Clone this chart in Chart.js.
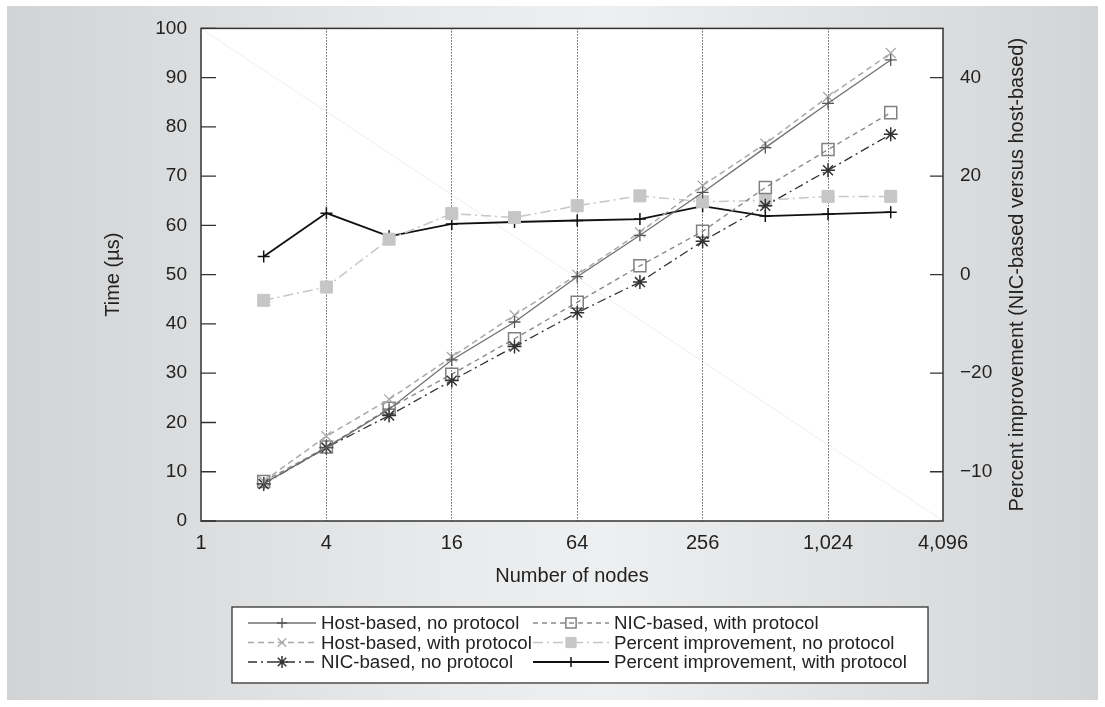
<!DOCTYPE html>
<html>
<head>
<meta charset="utf-8">
<script src="https://cdn.jsdelivr.net/npm/chart.js@4.4.0/dist/chart.umd.min.js"></script>
<style>
  html, body { margin: 0; padding: 0; background: #fff; }
  #panel { position: absolute; left: 7px; top: 6px; width: 1091px; height: 694px;
    background: linear-gradient(to right, #d2d3d5 0%, #e9eaeb 40%, #eeeff0 55%, #d3d4d6 100%); }
  #wrap { position: absolute; left: 0; top: 0; width: 1105px; height: 707px; }
</style>
</head>
<body>
<div id="panel"></div>
<div id="wrap"><canvas id="chart"></canvas></div>
<script>

// DATA

var nodes = [2, 4, 8, 16, 32, 64, 128, 256, 512, 1024, 2048];

// time (us), left axis
var hostNoProto   = [7.6, 14.9, 22.7, 32.7, 40.4, 49.6, 58.0, 66.7, 75.8, 84.8, 93.6];
var hostWithProto = [8.1, 17.2, 24.7, 33.3, 41.8, 50.0, 58.6, 68.1, 76.6, 86.1, 95.0];
var nicNoProto    = [7.5, 14.9, 21.4, 28.5, 35.4, 42.3, 48.5, 56.8, 64.0, 71.2, 78.5];
var nicWithProto  = [8.0, 15.0, 22.9, 29.8, 37.0, 44.4, 51.8, 58.8, 67.7, 75.4, 82.9];

// percent improvement, right axis
var pctNoProto    = [-5.2, -2.5, 7.2, 12.4, 11.6, 14.0, 16.0, 14.8, 15.1, 15.9, 15.9];
var pctWithProto  = [3.7, 12.5, 7.8, 10.3, 10.7, 11.0, 11.3, 13.9, 11.9, 12.3, 12.7];

var xTicks = [1, 4, 16, 64, 256, 1024, 4096];
var xMax = 3650;   // frame of the original stops a bit short of 4,096
var rightTicks = [-40, -20, 0, 20, 40];
var rightTickLabels = ['\u221210', '\u221220', '0', '20', '40'];
var rightTitle = 'Percent improvement (NIC-based versus host-based)';


Chart.defaults.font.family = "'Liberation Sans', Arial, sans-serif";
Chart.defaults.color = '#222';


function pts(arr) {
    return arr.map(function(v, i) { return {x: nodes[i], y: v}; });
}


var datasets = [
    {label: 'Host-based, no protocol', data: pts(hostNoProto), yAxisID: 'y',
     borderColor: '#707070', borderWidth: 1.3, borderDash: [],
     pointStyle: 'cross', pointRadius: 6, pointBorderColor: '#555', pointBackgroundColor: '#555', pointBorderWidth: 1.3},
    {label: 'Host-based, with protocol', data: pts(hostWithProto), yAxisID: 'y',
     borderColor: '#a9a9a9', borderWidth: 1.5, borderDash: [6, 4],
     pointStyle: 'crossRot', pointRadius: 7, pointBorderColor: '#a9a9a9', pointBackgroundColor: '#a9a9a9', pointBorderWidth: 1.3},
    {label: 'NIC-based, no protocol', data: pts(nicNoProto), yAxisID: 'y',
     borderColor: '#333', borderWidth: 1.3, borderDash: [9, 4, 2, 4],
     pointStyle: 'star', pointRadius: 7, pointBorderColor: '#333', pointBackgroundColor: '#333', pointBorderWidth: 1.5},
    {label: 'NIC-based, with protocol', data: pts(nicWithProto), yAxisID: 'y',
     borderColor: '#8a8a8a', borderWidth: 1.4, borderDash: [5, 4],
     pointStyle: 'rect', pointRadius: 8.5, pointBorderColor: '#808080', pointBackgroundColor: 'rgba(0,0,0,0)', pointBorderWidth: 1.5},
    {label: 'Percent improvement, no protocol', data: pts(pctNoProto), yAxisID: 'y1',
     borderColor: '#c6c6c6', borderWidth: 1.5, borderDash: [10, 4, 2, 4],
     pointStyle: 'rect', pointRadius: 8.5, pointBorderColor: '#c6c6c6', pointBackgroundColor: '#c6c6c6', pointBorderWidth: 1},
    {label: 'Percent improvement, with protocol', data: pts(pctWithProto), yAxisID: 'y1',
     borderColor: '#111', borderWidth: 1.8, borderDash: [],
     pointStyle: 'cross', pointRadius: 6, pointBorderColor: '#111', pointBackgroundColor: '#111', pointBorderWidth: 1.5},
];


// white plot area, faint diagonal, frame, inward ticks, right title, legend
var decor = {
    id: 'decor',
    beforeDraw: function(chart) {
        var a = chart.chartArea, c = chart.ctx;
        c.save();
        c.fillStyle = '#fff';
        c.fillRect(a.left, a.top, a.right - a.left, a.bottom - a.top);
        c.strokeStyle = '#efefef';
        c.lineWidth = 1;
        c.beginPath();
        c.moveTo(a.left, a.top);
        c.lineTo(a.right, a.bottom);
        c.stroke();
        c.restore();
    },
    afterDraw: function(chart) {
        var a = chart.chartArea, c = chart.ctx;
        var sy = chart.scales.y, sy1 = chart.scales.y1;
        c.save();
        c.strokeStyle = '#333';
        c.lineWidth = 1.5;
        c.setLineDash([]);
        c.strokeRect(a.left, a.top, a.right - a.left, a.bottom - a.top);

        c.lineWidth = 1.3;
        c.beginPath();
        sy.ticks.forEach(function(t) {
            var p = sy.getPixelForValue(t.value);
            c.moveTo(a.left, p); c.lineTo(a.left + 15, p);
        });
        sy1.ticks.forEach(function(t) {
            var p = sy1.getPixelForValue(t.value);
            c.moveTo(a.right - 13, p); c.lineTo(a.right, p);
        });
        c.stroke();

        // right axis title, reads bottom to top like the left one
        c.save();
        c.translate(1017, (a.top + a.bottom) / 2);
        c.rotate(-Math.PI / 2);
        c.font = "20px 'Liberation Sans', Arial, sans-serif";
        c.fillStyle = '#222';
        c.textAlign = 'center';
        c.textBaseline = 'middle';
        c.fillText(rightTitle, 0, 0);
        c.restore();

        // legend
        var bx = 232, by = 607, bw = 696, bh = 76;
        c.fillStyle = '#fff';
        c.fillRect(bx, by, bw, bh);
        c.lineWidth = 1.3;
        c.strokeStyle = '#333';
        c.strokeRect(bx, by, bw, bh);
        c.font = "18.7px 'Liberation Sans', Arial, sans-serif";
        c.textBaseline = 'middle';
        c.textAlign = 'left';
        chart.data.datasets.forEach(function(ds, i) {
            var col = Math.floor(i / 3), row = i % 3;
            var sx = col ? 533 : 248, sw = col ? 76 : 68;
            var y = 623 + row * 19.5;
            c.strokeStyle = ds.borderColor;
            c.lineWidth = ds.borderWidth;
            c.setLineDash(ds.borderDash);
            c.beginPath();
            c.moveTo(sx, y); c.lineTo(sx + sw, y);
            c.stroke();
            c.setLineDash([]);
            c.strokeStyle = ds.pointBorderColor;
            c.fillStyle = ds.pointBackgroundColor;
            c.lineWidth = ds.pointBorderWidth;
            Chart.helpers.drawPoint(c, {pointStyle: ds.pointStyle, radius: ds.pointRadius * 0.85,
                                        borderWidth: ds.pointBorderWidth, rotation: 0}, sx + sw / 2, y);
            c.fillStyle = '#222';
            c.fillText(ds.label, sx + sw + 5, y + 1);
        });
        c.restore();
    }
};


var ctx = document.getElementById('chart').getContext('2d');

var chart = new Chart(ctx, {
    type: 'line',
    data: {datasets: datasets},
    plugins: [decor],
    options: {
        responsive: true,
        maintainAspectRatio: false,
        animation: false,
        devicePixelRatio: 1,
        layout: {padding: {left: 90, right: 72, top: 23, bottom: 117}},
        elements: {line: {tension: 0, fill: false}},

        scales: {
            x: {
                type: 'logarithmic',
                min: 1,
                max: xMax,
                afterBuildTicks: function(s) {
                    s.ticks = xTicks.map(function(v) { return {value: Math.min(v, xMax)}; });
                },
                ticks: {
                    autoSkip: false, maxRotation: 0, padding: 10,
                    font: {size: 20},
                    callback: function(v, i) { return xTicks[i].toLocaleString('en-US'); }},
                grid: {
                    drawTicks: false, lineWidth: 1,
                    color: function(c) {
                        var v = c.tick && c.tick.value;
                        return (v === 1 || v === xMax) ? 'rgba(0,0,0,0)' : '#111';}},
                border: {display: false, dash: [1, 2]},
                title: {display: true, text: 'Number of nodes', font: {size: 20}, padding: {top: 0, bottom: 2}},
                afterFit: function(s) { s.height = 69; },
            },
            y: {
                position: 'left',
                min: 0,
                max: 100,
                ticks: {stepSize: 10, padding: 14, font: {size: 19}},
                grid: {display: false, drawTicks: false},
                border: {display: false},
                title: {display: true, text: 'Time (\u00b5s)', font: {size: 20}, padding: {top: 11, bottom: 0}},
                afterFit: function(s) { s.width = 111; },
            },
            y1: {
                position: 'right',
                min: -50,
                max: 50,
                afterBuildTicks: function(s) {
                    s.ticks = rightTicks.map(function(v) { return {value: v}; });
                },
                ticks: {
                    padding: 17, font: {size: 19},
                    callback: function(v, i) { return rightTickLabels[i]; }},
                grid: {display: false, drawTicks: false},
                border: {display: false},
                afterFit: function(s) { s.width = 90; },
            },
        },

        plugins: {
            legend: {display: false},
            tooltip: {enabled: false},
        },
    },
});

</script>
</body>
</html>
